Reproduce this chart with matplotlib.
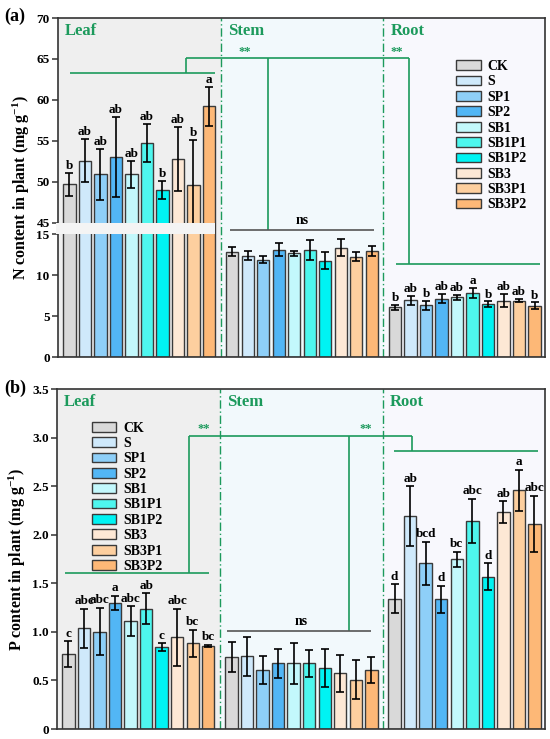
import numpy as np
import matplotlib
matplotlib.use("Agg")
import matplotlib.pyplot as plt
from matplotlib.patches import Patch, Rectangle
from matplotlib.ticker import FixedLocator, FuncFormatter

plt.rcParams['font.family'] = ['Liberation Serif', 'DejaVu Serif']
plt.rcParams['font.weight'] = 'bold'
plt.rcParams['mathtext.fontset'] = 'custom'
plt.rcParams['mathtext.rm'] = 'Liberation Serif:bold'
plt.rcParams['mathtext.it'] = 'Liberation Serif:bold'
plt.rcParams['mathtext.bf'] = 'Liberation Serif:bold'

treatments = ['CK', 'S', 'SP1', 'SP2', 'SB1', 'SB1P1', 'SB1P2', 'SB3', 'SB3P1', 'SB3P2']
colors = ['#d9d9d9', '#cfe9fb', '#8ecff8', '#52b6f5', '#c3f8fc',
          '#4ef6ee', '#00f3f3', '#fde8d5', '#fdcf9f', '#fdb877']
organs = ['Leaf', 'Stem', 'Root']

# ---- N content (mg g-1) ----
n_leaf = [49.7, 52.6, 50.9, 53.0, 50.9, 54.7, 49.0, 52.8, 49.6, 59.2]
n_leaf_err = [1.4, 2.6, 3.1, 4.9, 1.65, 2.3, 1.1, 3.9, 5.5, 2.4]
n_stem = [12.88, 12.34, 11.9, 13.08, 12.67, 13.08, 11.77, 13.37, 12.26, 12.9]
n_stem_err = [0.6, 0.55, 0.45, 0.8, 0.3, 1.25, 1.0, 1.0, 0.57, 0.6]
n_root = [6.1, 6.93, 6.3, 7.13, 7.3, 7.83, 6.43, 6.89, 6.89, 6.27]
n_root_err = [0.3, 0.57, 0.55, 0.53, 0.33, 0.62, 0.37, 0.77, 0.2, 0.4]
n_leaf_let = ['b', 'ab', 'ab', 'ab', 'ab', 'ab', 'b', 'ab', 'b', 'a']
n_root_let = ['b', 'ab', 'b', 'ab', 'ab', 'a', 'b', 'ab', 'ab', 'b']

# ---- P content (mg g-1) ----
p_leaf = [0.772, 1.037, 1.002, 1.30, 1.112, 1.239, 0.841, 0.944, 0.882, 0.855]
p_leaf_err = [0.13, 0.2, 0.245, 0.07, 0.15, 0.16, 0.04, 0.295, 0.14, 0.015]
p_stem = [0.738, 0.749, 0.611, 0.676, 0.676, 0.676, 0.628, 0.573, 0.508, 0.611]
p_stem_err = [0.155, 0.2, 0.145, 0.15, 0.21, 0.14, 0.195, 0.19, 0.2, 0.134]
p_root = [1.342, 2.19, 1.706, 1.335, 1.747, 2.142, 1.569, 2.235, 2.458, 2.111]
p_root_err = [0.15, 0.31, 0.22, 0.14, 0.08, 0.23, 0.135, 0.11, 0.21, 0.29]
p_leaf_let = ['c', 'abc', 'abc', 'a', 'abc', 'ab', 'c', 'abc', 'bc', 'bc']
p_root_let = ['d', 'ab', 'bcd', 'd', 'bc', 'abc', 'd', 'ab', 'a', 'abc']

n_ticks_low = [0, 5, 10, 15]
n_ticks_high = [45, 50, 55, 60, 65, 70]
p_ticks = [0, 0.5, 1.0, 1.5, 2.0, 2.5, 3.0, 3.5]

# break of the N axis
BREAK_LO, BREAK_HI, GAP = 15, 45, 1.4
SHIFT = BREAK_HI - BREAK_LO - GAP

GREEN = '#1c9a5c'
BG = ['#efefef', '#f2f9fc', '#f8f8fd']
GROUP_STEP = 10.5
BAR_W = 0.8

fig = plt.figure(figsize=(5.5, 7.39), dpi=100)
axA = fig.add_axes([0.1055, 0.5169, 0.8855, 0.4587])
axB = fig.add_axes([0.1036, 0.0135, 0.8873, 0.4601])

xs = np.arange(len(treatments))
group_x = [xs + g * GROUP_STEP for g in range(3)]
XL = (-0.74, 30.68)


def setup(ax, ytop):
    ax.set_xlim(*XL)
    ax.set_ylim(0, ytop)
    div = [(group_x[0][-1] + group_x[1][0]) / 2, (group_x[1][-1] + group_x[2][0]) / 2]
    edges = [XL[0]] + div + [XL[1]]
    for k in range(3):
        ax.axvspan(edges[k], edges[k + 1], color=BG[k], zorder=0, lw=0)
        ax.text(edges[k] + 0.45, ytop * 0.962, organs[k], color=GREEN,
                fontsize=12, fontweight='bold', ha='left', va='center')
    for d in div:
        ax.axvline(d, color=GREEN, lw=1.0, ls=(0, (6, 2, 1, 2)), zorder=1)
    ax.set_xticks([])
    for s in ax.spines.values():
        s.set_linewidth(1.2)
        s.set_color('#333333')
    ax.tick_params(axis='y', direction='out', length=4, width=1.1, labelsize=9.5,
                   color='#333333', pad=2)
    return div


def bars(ax, x, vals, errs, pos=None):
    v = np.asarray(vals, float)
    e = np.asarray(errs, float)
    p = v if pos is None else pos(v)
    ax.bar(x, p, width=BAR_W, color=colors, edgecolor='#3a3a3a', lw=1.0, zorder=2)
    ax.errorbar(x, p, yerr=e, fmt='none', ecolor='black', elinewidth=1.2,
                capsize=3, capthick=1.2, zorder=3)
    return p + e


def letters(ax, x, tops, labs, off):
    for xi, t, l in zip(x, tops, labs):
        ax.text(xi, t + off, l, ha='center', va='bottom', fontsize=9.5,
                fontweight='bold', zorder=4)


def gline(ax, xx, yy, color=GREEN):
    ax.plot(xx, yy, color=color, lw=1.2, zorder=4, solid_capstyle='butt')


# ================= panel (a) =================
ytopA = n_ticks_high[-1] - SHIFT
setup(axA, ytopA)
leafpos = lambda v: v - SHIFT
tA0 = bars(axA, group_x[0], n_leaf, n_leaf_err, leafpos)
tA1 = bars(axA, group_x[1], n_stem, n_stem_err)
tA2 = bars(axA, group_x[2], n_root, n_root_err)
letters(axA, group_x[0], tA0, n_leaf_let, 0.15)
letters(axA, group_x[2], tA2, n_root_let, 0.1)

# break band
axA.add_patch(Rectangle((XL[0] - 0.12, BREAK_LO), 9.39 - XL[0] + 0.12, GAP,
                        facecolor='#f4f4f4', edgecolor='none', zorder=6, clip_on=False))

ticksA = n_ticks_low + [t - SHIFT for t in n_ticks_high]
axA.yaxis.set_major_locator(FixedLocator(ticksA))
axA.set_yticklabels([str(t) for t in n_ticks_low + n_ticks_high])
axA.set_ylabel('N content in plant (mg g$^{-1}$)', fontsize=11.5, fontweight='bold', labelpad=3)

# brackets (a)
yLeafA = 63.3 - SHIFT
yTopA = 65.06 - SHIFT
gline(axA, [0.03, 9.39], [yLeafA, yLeafA])
gline(axA, [7.5, 7.5], [yLeafA, yTopA])
gline(axA, [7.5, 21.9], [yTopA, yTopA])
yNsA = 15.55
gline(axA, [12.79, 12.79], [yTopA, yNsA])
gline(axA, [10.36, 19.65], [yNsA, yNsA], color='#555555')
axA.text(15.0, yNsA + 0.35, 'ns', ha='center', va='bottom', fontsize=10, fontweight='bold')
yRootA = 11.3
gline(axA, [21.9, 21.9], [yTopA, yRootA])
gline(axA, [21.07, 30.36], [yRootA, yRootA])
for xx in (11.32, 21.13):
    axA.text(xx, yTopA + 0.1, '**', color=GREEN, ha='center', va='bottom', fontsize=9,
             fontweight='bold')

hA = [Patch(facecolor=c, edgecolor='#3a3a3a', lw=1.0) for c in colors]
axA.legend(hA, treatments, loc='upper left', bbox_to_anchor=(0.818, 0.876), frameon=False,
           fontsize=10, handlelength=1.75, handleheight=0.7, labelspacing=0.17,
           handletextpad=0.5, borderaxespad=0, borderpad=0)

fig.text(0.008, 0.978, '(a)', fontsize=13, fontweight='bold', ha='left', va='center')

# ================= panel (b) =================
setup(axB, p_ticks[-1])
tB0 = bars(axB, group_x[0], p_leaf, p_leaf_err)
tB1 = bars(axB, group_x[1], p_stem, p_stem_err)
tB2 = bars(axB, group_x[2], p_root, p_root_err)
letters(axB, group_x[0], tB0, p_leaf_let, 0.015)
letters(axB, group_x[2], tB2, p_root_let, 0.015)
axB.yaxis.set_major_locator(FixedLocator(p_ticks))
axB.yaxis.set_major_formatter(FuncFormatter(lambda v, _: '0' if v == 0 else f'{v:.1f}'))
axB.set_ylabel('P content in plant (mg g$^{-1}$)', fontsize=11.5, fontweight='bold', labelpad=3)

gline(axB, [-0.22, 9.07], [1.603, 1.603])
gline(axB, [7.73, 7.73], [1.603, 3.017])
gline(axB, [7.73, 22.14], [3.017, 3.017])
gline(axB, [18.03, 18.03], [3.017, 1.01])
gline(axB, [10.23, 19.5], [1.01, 1.01], color='#555555')
axB.text(15.0, 1.01 + 0.03, 'ns', ha='center', va='bottom', fontsize=10, fontweight='bold')
gline(axB, [22.14, 22.14], [3.017, 2.866])
gline(axB, [20.94, 30.23], [2.866, 2.866])
for xx in (8.74, 19.11):
    axB.text(xx, 3.017 + 0.01, '**', color=GREEN, ha='center', va='bottom', fontsize=9,
             fontweight='bold')

hB = [Patch(facecolor=c, edgecolor='#3a3a3a', lw=1.0) for c in colors]
axB.legend(hB, treatments, loc='upper left', bbox_to_anchor=(0.072, 0.904), frameon=False,
           fontsize=10, handlelength=1.75, handleheight=0.7, labelspacing=0.17,
           handletextpad=0.5, borderaxespad=0, borderpad=0)

fig.text(0.008, 0.474, '(b)', fontsize=13, fontweight='bold', ha='left', va='center')

fig.savefig('out.png', dpi=100)
